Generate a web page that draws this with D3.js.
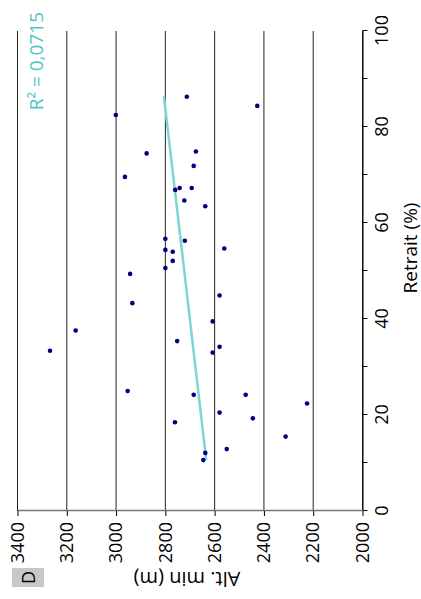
<!DOCTYPE html>
<html>
<head>
<meta charset="utf-8">
<script src="https://cdn.jsdelivr.net/npm/d3@7"></script>
<style>
  html, body { margin: 0; padding: 0; background: #fff; }
  svg { display: block; }
  text { font-family: "Open Sans", "DejaVu Sans", sans-serif; }
</style>
</head>
<body>
<script>
// Data
const retrait = [86.3, 84.4, 82.5, 74.5, 74.9, 71.9, 69.6, 66.9, 67.3, 67.3,
  64.7, 63.5, 56.7, 56.3, 54.4, 54.0, 54.7, 52.1, 50.6, 49.4,
  43.3, 44.9, 39.5, 35.4, 34.2, 33.0, 25.0, 24.2, 24.2, 22.4,
  18.5, 20.5, 19.3, 15.5, 12.9, 12.1, 10.6, 33.4, 37.6];
const altMin = [2713, 2427, 3001, 2876, 2676, 2685, 2964, 2760, 2742, 2693,
  2723, 2638, 2800, 2721, 2800, 2770, 2561, 2770, 2800, 2943,
  2934, 2580, 2608, 2752, 2580, 2608, 2953, 2685, 2474, 2225,
  2761, 2580, 2445, 2312, 2551, 2638, 2646, 3268, 3164];
const trendRetrait = [10.6, 86.5];
const trendAlt = [2634, 2806];
const retraitTicks = [0, 20, 40, 60, 80, 100];
const retraitMinorTicks = [10, 30, 50, 70, 90];
const altTicks = [2000, 2200, 2400, 2600, 2800, 3000, 3200, 3400];
const r2Label = "R² = 0,0715";
const panelLabel = "D";
const xTitle = "Retrait (%)";
const yTitle = "Alt. min (m)";

const W = 421, H = 599;
const svg = d3.select("body").append("svg").attr("width", W).attr("height", H);

// chart drawn in its natural orientation, then rotated -90°
const plotW = 480, plotH = 345;
const g = svg.append("g").attr("transform", "translate(17.5,511) rotate(-90)");

const x = d3.scaleLinear().domain([0, 100]).range([0, plotW]);
const y = d3.scaleLinear().domain([2000, 3400]).range([plotH, 0]);

// gridlines
g.append("g").selectAll("line").data(altTicks).join("line")
  .attr("x1", 0).attr("x2", plotW)
  .attr("y1", d => y(d)).attr("y2", d => y(d))
  .attr("stroke", "#222").attr("stroke-width", 1);

// x axis (Retrait)
const xAxis = g.append("g").attr("transform", `translate(0,${plotH})`)
  .call(d3.axisBottom(x).tickValues(retraitTicks).tickSize(5).tickPadding(8).tickSizeOuter(0)
    .tickFormat(d3.format("d")));
g.append("g").attr("transform", `translate(0,${plotH})`)
  .call(d3.axisBottom(x).tickValues(retraitMinorTicks).tickSize(5).tickFormat("").tickSizeOuter(0))
  .select(".domain").remove();

// y axis (Alt)
const yAxis = g.append("g")
  .call(d3.axisLeft(y).tickValues(altTicks).tickSize(5).tickPadding(6).tickSizeOuter(0)
    .tickFormat(d3.format("d")));

g.selectAll(".tick text").attr("font-size", 18).attr("fill", "#000")
  .style("font-family", '"Open Sans", sans-serif');
g.selectAll(".tick line").attr("stroke", "#000");
xAxis.select(".domain").attr("stroke", "#000");
yAxis.select(".domain").attr("stroke", "#777").attr("stroke-width", 1.5);

// trend line
g.append("line")
  .attr("x1", x(trendRetrait[0])).attr("y1", y(trendAlt[0]))
  .attr("x2", x(trendRetrait[1])).attr("y2", y(trendAlt[1]))
  .attr("stroke", "#7fd4d4").attr("stroke-width", 2.5);

// points
g.append("g").selectAll("circle").data(retrait.map((r, i) => [r, altMin[i]])).join("circle")
  .attr("cx", d => x(d[0])).attr("cy", d => y(d[1])).attr("r", 2.3)
  .attr("fill", "#000080");

// R² label
g.append("text").attr("x", 499).attr("y", 25).attr("text-anchor", "end")
  .attr("font-size", 19).attr("fill", "#4fc4c8").text(r2Label);

// axis titles
g.append("text").attr("x", 263).attr("y", plotH + 54).attr("text-anchor", "middle")
  .attr("font-size", 19).attr("fill", "#000").text(xTitle);
g.append("text").attr("transform", `translate(-61,${y(2700) - 3}) rotate(-90)`)
  .attr("text-anchor", "middle").attr("font-size", 20).attr("fill", "#000").text(yTitle);

// panel label
g.append("rect").attr("x", -76).attr("y", -5.5).attr("width", 19).attr("height", 32)
  .attr("fill", "#c8c8c8");
g.append("text").attr("x", -66.5).attr("y", 17).attr("text-anchor", "middle")
  .attr("font-size", 18).attr("fill", "#000").text(panelLabel);
</script>
</body>
</html>
